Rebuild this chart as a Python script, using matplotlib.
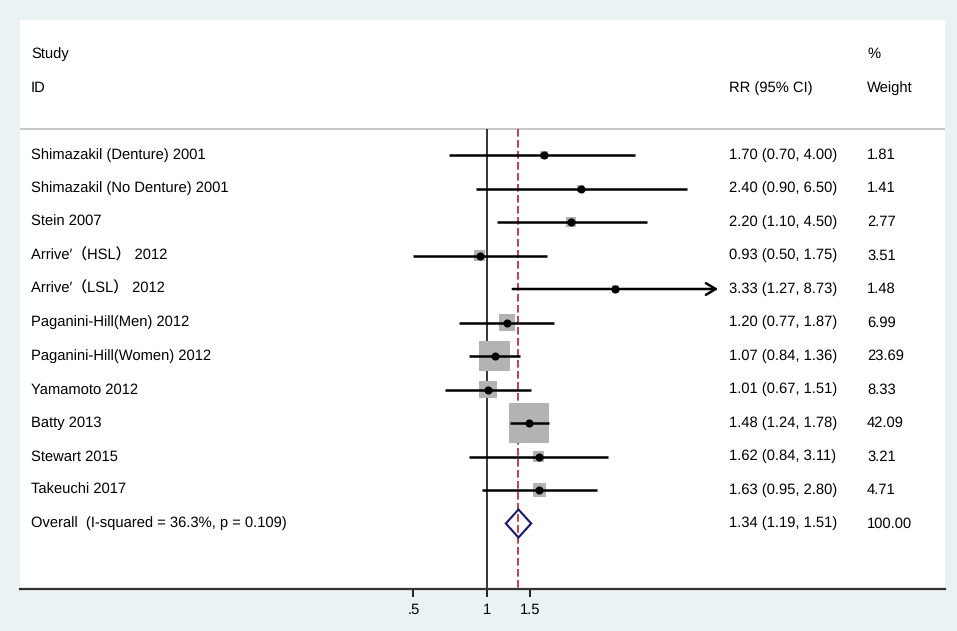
import numpy as np
import matplotlib.pyplot as plt

# Study data
studies = [
    "Shimazakil (Denture) 2001",
    "Shimazakil (No Denture) 2001",
    "Stein 2007",
    "Arrive′（HSL） 2012",
    "Arrive′（LSL） 2012",
    "Paganini-Hill(Men) 2012",
    "Paganini-Hill(Women) 2012",
    "Yamamoto 2012",
    "Batty 2013",
    "Stewart 2015",
    "Takeuchi 2017",
]
rr = [1.70, 2.40, 2.20, 0.93, 3.33, 1.20, 1.07, 1.01, 1.48, 1.62, 1.63]
ci_low = [0.70, 0.90, 1.10, 0.50, 1.27, 0.77, 0.84, 0.67, 1.24, 0.84, 0.95]
ci_high = [4.00, 6.50, 4.50, 1.75, 8.73, 1.87, 1.36, 1.51, 1.78, 3.11, 2.80]
weights = [1.81, 1.41, 2.77, 3.51, 1.48, 6.99, 23.69, 8.33, 42.09, 3.21, 4.71]

overall_label = "Overall  (I-squared = 36.3%, p = 0.109)"
overall_rr, overall_low, overall_high, overall_weight = 1.34, 1.19, 1.51, 100.00

# studies whose CI runs past the plot range get an arrow
arrow_rows = [4]

xticks = [0.5, 1, 1.5]
xticklabels = [".5", "1", "1.5"]

fonts = ["Liberation Sans", "Noto Sans CJK SC", "DejaVu Sans"]
plt.rcParams["font.family"] = fonts
plt.rcParams["text.hinting"] = "no_hinting"

W, H = 957, 631
fig = plt.figure(figsize=(W / 100, H / 100), dpi=100, facecolor="#eaf2f3")
# plot region in pixels: x 20..945, y 20..589
ax = fig.add_axes([20 / W, (H - 589) / H, 925 / W, 569 / H], facecolor="white")

px_per_ln = 106.5
x_one = 487.3
ax.set_xscale("log")
ax.set_xlim(np.exp((20 - x_one) / px_per_ln), np.exp((945 - x_one) / px_per_ln))
row_h = 33.5
ax.set_ylim((589 - 155) / row_h, (20 - 155) / row_h)

n = len(studies)
rows = np.arange(n)
sep_y = (129 - 155) / row_h
y_bottom = ax.get_ylim()[0]

# header separator, null line, overall line
ax.axhline(sep_y, color="#bdbdbd", lw=1.2)
ax.vlines(1, sep_y, y_bottom, color="black", lw=1.1)
ax.vlines(overall_rr, sep_y, y_bottom, color="#a3121e", lw=1.1, linestyles=(0, (5, 2.2)))

# weight boxes (side proportional to sqrt(weight))
box_scale = (0.72 * 6.17) ** 2
ax.scatter(rr, rows, s=np.array(weights) * box_scale, marker="s", color="#b3b3b3",
           linewidths=0, zorder=2)

# confidence intervals
for i in range(n):
    if i in arrow_rows:
        ax.annotate("", xy=(ci_high[i], rows[i]), xytext=(ci_low[i], rows[i]),
                    arrowprops=dict(arrowstyle="->,head_length=0.7,head_width=0.42",
                                    lw=1.8, color="black", shrinkA=0, shrinkB=0),
                    zorder=3)
    else:
        ax.plot([ci_low[i], ci_high[i]], [rows[i], rows[i]], color="black", lw=1.8,
                solid_capstyle="butt", zorder=3)
ax.plot(rr, rows, "o", color="black", ms=4.8, zorder=4)

# overall diamond
oy = n
dh = 14 / row_h
ax.fill([overall_low, overall_rr, overall_high, overall_rr],
        [oy, oy - dh, oy, oy + dh], facecolor="none", edgecolor="#15156b", lw=1.5, zorder=4)

# text columns
tr = ax.get_yaxis_transform()
x_name = 11 / 925
x_rr = 709 / 925
x_w = 847 / 925
fs = 10.6
ax.text(x_name, -3, "Study", transform=tr, fontsize=fs, va="center")
ax.text(x_name, -2, "ID", transform=tr, fontsize=fs, va="center")
ax.text(x_rr, -2, "RR (95% CI)", transform=tr, fontsize=fs, va="center")
ax.text(x_w, -3, "%", transform=tr, fontsize=fs, va="center")
ax.text(x_w, -2, "Weight", transform=tr, fontsize=fs, va="center")

for i in range(n):
    ax.text(x_name, rows[i], studies[i], transform=tr, fontsize=fs, va="center")
    ax.text(x_rr, rows[i], f"{rr[i]:.2f} ({ci_low[i]:.2f}, {ci_high[i]:.2f})",
            transform=tr, fontsize=fs, va="center")
    ax.text(x_w, rows[i], f"{weights[i]:.2f}", transform=tr, fontsize=fs, va="center")

ax.text(x_name, oy, overall_label, transform=tr, fontsize=fs, va="center")
ax.text(x_rr, oy, f"{overall_rr:.2f} ({overall_low:.2f}, {overall_high:.2f})",
        transform=tr, fontsize=fs, va="center")
ax.text(x_w, oy, f"{overall_weight:.2f}", transform=tr, fontsize=fs, va="center")

# axes styling
for side in ["top", "left", "right"]:
    ax.spines[side].set_visible(False)
ax.spines["bottom"].set_color("#333333")
ax.spines["bottom"].set_linewidth(1.6)
ax.minorticks_off()
ax.set_xticks(xticks)
ax.set_xticklabels(xticklabels, fontsize=fs)
ax.tick_params(axis="x", which="major", direction="out", length=6, width=1.4,
               color="#222222", pad=4, bottom=True)
ax.set_yticks([])

fig.savefig("out.png", dpi=100, facecolor=fig.get_facecolor())
